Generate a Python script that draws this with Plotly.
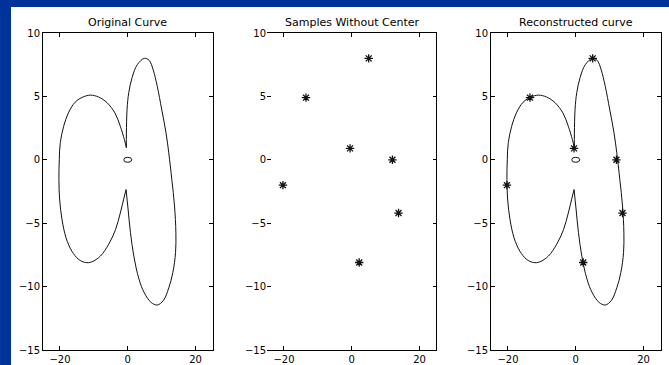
import plotly.graph_objects as go

# Closed curve, split at its two cusps into a right arc and a left arc
right_x = [-0.4, -0.4, -0.2, 0.3, 1.3, 2.8, 4.9, 6.3, 7.5, 8.7, 10.0, 11.3, 12.1, 13.0,
           13.8, 14.2, 14.1, 13.3, 12.1, 10.5, 8.7, 6.9, 4.9, 3.3, 1.8, 0.8, 0.1, -0.5]
right_y = [0.95, 2.1, 4.0, 5.3, 6.5, 7.5, 8.0, 7.85, 7.1, 5.8, 4.0, 2.1, 0.55, -1.55,
           -3.65, -5.75, -7.3, -8.9, -10.1, -11.1, -11.45, -11.25, -10.5, -9.4, -7.6, -5.75, -3.9, -2.35]
left_x = [-0.5, -1.2, -2.2, -3.6, -5.6, -8.1, -10.6, -12.5, -14.5, -16.5, -18.2, -19.4, -20.1, -20.3,
          -20.2, -19.9, -18.9, -17.5, -15.5, -13.2, -11.0, -8.6, -6.1, -3.8, -2.2, -1.0, -0.4]
left_y = [-2.35, -3.1, -4.2, -5.5, -6.65, -7.6, -8.05, -8.1, -7.85, -7.2, -6.15, -4.7, -3.1, -1.55,
          0.0, 1.35, 2.65, 3.7, 4.55, 4.95, 5.1, 4.95, 4.5, 3.7, 2.65, 1.6, 0.95]

# Sample points on the curve
sample_x = [5.0, -13.5, -0.5, 12.0, -20.3, 13.8, 2.2]
sample_y = [8.0, 4.9, 0.9, 0.0, -2.0, -4.2, -8.1]

# Centre of the curve
center_x = [0.0]
center_y = [0.0]

titles = ["Original Curve", "Samples Without Center", "Reconstructed curve"]
x_ticks = [-20, 0, 20]
y_ticks = [10, 5, 0, -5, -10, -15]

W, H = 669, 365
BLUE = "#003399"
INK = "#111111"
FONT = "DejaVu Sans"

# panel pixel extents (left, right); shared top/bottom
panels = [(43, 212.5), (267, 436.5), (491, 660.5)]
top_px, bottom_px = 33, 350

fig = go.Figure()


def curve_traces(xa, ya):
    for cx, cy in ((right_x, right_y), (left_x, left_y)):
        fig.add_trace(go.Scatter(x=cx, y=cy, mode="lines", xaxis=xa, yaxis=ya,
                                 line=dict(color=INK, width=1, shape="spline", smoothing=1.0),
                                 hoverinfo="skip", showlegend=False))


def sample_trace(xa, ya):
    fig.add_trace(go.Scatter(x=sample_x, y=sample_y, mode="markers", xaxis=xa, yaxis=ya,
                             marker=dict(symbol="asterisk-open", size=7, color=INK,
                                         line=dict(color=INK, width=1.3)),
                             hoverinfo="skip", showlegend=False))


curve_traces("x", "y")
sample_trace("x2", "y2")
curve_traces("x3", "y3")
sample_trace("x3", "y3")

axis_common = dict(
    showgrid=False, zeroline=False, ticks="inside", ticklen=4, tickwidth=1,
    tickcolor="black", linecolor="black", linewidth=1, automargin=False,
    tickfont=dict(family=FONT, size=10, color="black"),
)

ydom = [(H - bottom_px) / H, (H - top_px) / H]
layout = {}
for i, (l, r) in enumerate(panels, start=1):
    sfx = "" if i == 1 else str(i)
    layout["xaxis" + sfx] = dict(axis_common, domain=[l / W, r / W], range=[-25, 25],
                                 tickvals=x_ticks, showline=True, mirror="ticks",
                                 anchor="y" + sfx, fixedrange=True)
    layout["yaxis" + sfx] = dict(axis_common, domain=ydom, range=[-15, 10],
                                 tickvals=y_ticks, showline=(i != 2), mirror="ticks",
                                 anchor="x" + sfx, fixedrange=True)

shapes = [
    # white slide area over the blue frame
    dict(type="rect", xref="paper", yref="paper", x0=11 / W, x1=1, y0=0, y1=(H - 7) / H,
         fillcolor="white", line=dict(width=0), layer="below"),
    # right edge of the middle panel
    dict(type="line", xref="x2 domain", yref="y2 domain", x0=1, x1=1, y0=0, y1=1,
         line=dict(color="black", width=1)),
]
# small centre ellipse in the first and third panels
for xa, ya in (("x", "y"), ("x3", "y3")):
    shapes.append(dict(type="circle", xref=xa, yref=ya,
                       xsizemode="pixel", xanchor=center_x[0], x0=-4, x1=4,
                       ysizemode="pixel", yanchor=center_y[0], y0=-2.5, y1=2.5,
                       line=dict(color=INK, width=1)))

annotations = []
for (l, r), t in zip(panels, titles):
    annotations.append(dict(text=t, xref="paper", yref="paper", x=(l + r) / 2 / W,
                            y=(H - 23) / H, xanchor="center", yanchor="middle",
                            showarrow=False, font=dict(family=FONT, size=11, color="black")))

fig.update_layout(
    width=W, height=H, margin=dict(l=0, r=0, t=0, b=0, autoexpand=False),
    paper_bgcolor=BLUE, plot_bgcolor="white",
    shapes=shapes, annotations=annotations, **layout,
)

fig.write_html("out.html", config={"displayModeBar": False})
